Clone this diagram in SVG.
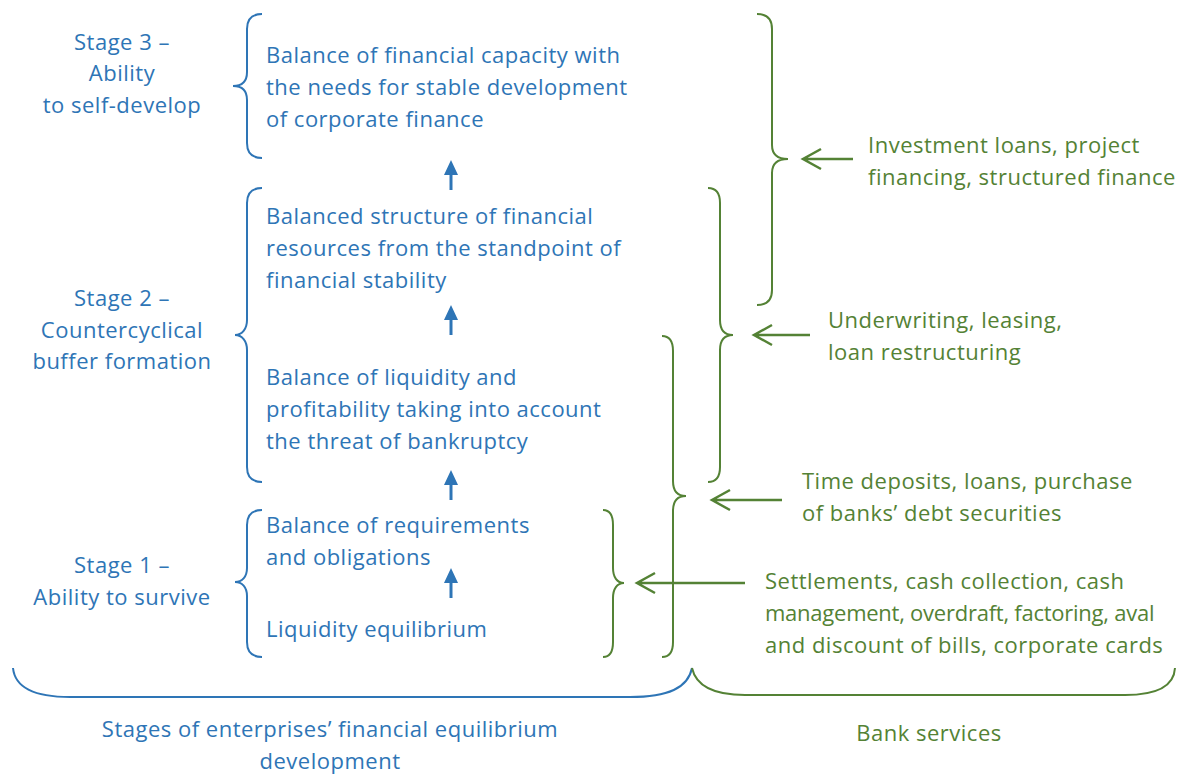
<svg xmlns="http://www.w3.org/2000/svg" width="1193" height="774" viewBox="0 0 1193 774">
<defs>
<style>
.bt{font-family:"Open Sans","Noto Sans",sans-serif;font-size:22px;letter-spacing:0.5px;fill:#2E75B6}
.gt{font-family:"Open Sans","Noto Sans",sans-serif;font-size:22px;letter-spacing:0.5px;fill:#548235}
.bb{fill:none;stroke:#2E75B6;stroke-width:2}
.gb{fill:none;stroke:#548235;stroke-width:2}
.ba{stroke:#2E75B6;stroke-width:3}
.bh{fill:#2E75B6}
.ga{stroke:#548235;stroke-width:2.5;fill:none}
</style>
</defs>
<rect width="1193" height="774" fill="#fff"/>

<g id="stage3-label"><text class="bt" text-anchor="middle"><tspan x="122" y="50">Stage 3 –</tspan><tspan x="122" y="81">Ability</tspan><tspan x="122" y="113">to self-develop</tspan></text></g>
<g id="stage2-label"><text class="bt" text-anchor="middle"><tspan x="122" y="306">Stage 2 –</tspan><tspan x="122" y="338">Countercyclical</tspan><tspan x="122" y="369">buffer formation</tspan></text></g>
<g id="stage1-label"><text class="bt" text-anchor="middle"><tspan x="122" y="573">Stage 1 –</tspan><tspan x="122" y="605">Ability to survive</tspan></text></g>

<g id="brace-stage3"><path class="bb" d="M262,14 C252,14 247,19 247,29 L247,72 C247,81 242,86 233,86 C242,86 247,91 247,100 L247,143 C247,153 252,158 262,158"/></g>
<g id="brace-stage2"><path class="bb" d="M262,188 C252,188 247,193 247,203 L247,320 C247,329 242,335 235,335 C242,335 247,341 247,350 L247,467 C247,477 252,482 262,482"/></g>
<g id="brace-stage1"><path class="bb" d="M262,510 C252,510 247,515 247,525 L247,568 C247,577 242,582 235,582 C242,582 247,587 247,596 L247,642 C247,652 252,657 262,657"/></g>

<g id="n-self-develop"><text class="bt"><tspan x="266" y="63">Balance of financial capacity with</tspan><tspan x="266" y="95">the needs for stable development</tspan><tspan x="266" y="127">of corporate finance</tspan></text></g>
<g id="n-balanced-structure"><text class="bt"><tspan x="266" y="224">Balanced structure of financial</tspan><tspan x="266" y="256">resources from the standpoint of</tspan><tspan x="266" y="288">financial stability</tspan></text></g>
<g id="n-liquidity-profitability"><text class="bt"><tspan x="266" y="385">Balance of liquidity and</tspan><tspan x="266" y="417">profitability taking into account</tspan><tspan x="266" y="449">the threat of bankruptcy</tspan></text></g>
<g id="n-requirements"><text class="bt"><tspan x="266" y="533">Balance of requirements</tspan><tspan x="266" y="565">and obligations</tspan></text></g>
<g id="n-liquidity-eq"><text class="bt"><tspan x="266" y="637">Liquidity equilibrium</tspan></text></g>

<g id="brace-investment"><path class="gb" d="M757,14 C767,14 772,19 772,29 L772,145 C772,154 777,159 788,159 C777,159 772,164 772,173 L772,290 C772,300 767,305 757,305"/></g>
<g id="brace-underwriting"><path class="gb" d="M708,188 C716,188 720,193 720,203 L720,320 C720,329 724,335 733,335 C724,335 720,341 720,350 L720,467 C720,477 716,482 708,482"/></g>
<g id="brace-time-deposits"><path class="gb" d="M662,336 C669,336 673,341 673,351 L673,481 C673,490 677,496 686,496 C677,496 673,502 673,511 L673,642 C673,652 669,657 662,657"/></g>
<g id="brace-settlements"><path class="gb" d="M603,510 C610,510 613,515 613,525 L613,568 C613,577 617,583 624,583 C617,583 613,589 613,598 L613,642 C613,652 610,657 603,657"/></g>

<g id="n-investment"><text class="gt"><tspan x="868" y="153">Investment loans, project</tspan><tspan x="868" y="185">financing, structured finance</tspan></text></g>
<g id="n-underwriting"><text class="gt"><tspan x="828" y="328">Underwriting, leasing,</tspan><tspan x="828" y="360">loan restructuring</tspan></text></g>
<g id="n-time-deposits"><text class="gt"><tspan x="802" y="489">Time deposits, loans, purchase</tspan><tspan x="802" y="521">of banks’ debt securities</tspan></text></g>
<g id="n-settlements"><text class="gt"><tspan x="765" y="589">Settlements, cash collection, cash</tspan></text><text class="gt" x="765" y="621" textLength="390" lengthAdjust="spacing">management, overdraft, factoring, aval</text><text class="gt"><tspan x="765" y="653">and discount of bills, corporate cards</tspan></text></g>

<g id="bottom-brace-stages"><path class="bb" d="M13,668 C15,688 35,697 70,697 L630,697 C668,697 688,688 692,668"/></g>
<g id="bottom-brace-bank"><path class="gb" d="M692,668 C696,686 714,695 745,695 L1125,695 C1158,695 1174,686 1175,668"/></g>
<g id="label-stages"><text class="bt" text-anchor="middle"><tspan x="330" y="737">Stages of enterprises’ financial equilibrium</tspan><tspan x="330" y="769">development</tspan></text></g>
<g id="label-bank"><text class="gt" text-anchor="middle"><tspan x="929" y="741">Bank services</tspan></text></g>

<g id="connectors">
<line class="ba" x1="451" y1="190" x2="451" y2="172"/><polygon class="bh" points="451,160 458,175 444,175"/>
<line class="ba" x1="451" y1="335" x2="451" y2="317"/><polygon class="bh" points="451,305 458,320 444,320"/>
<line class="ba" x1="451" y1="500" x2="451" y2="482"/><polygon class="bh" points="451,470 458,485 444,485"/>
<line class="ba" x1="451" y1="598" x2="451" y2="580"/><polygon class="bh" points="451,568 458,583 444,583"/>
<path class="ga" d="M853,159 L803,159 M821,149 L803,159 L821,169"/>
<path class="ga" d="M810,335 L754,335 M772,325 L754,335 L772,345"/>
<path class="ga" d="M782,500 L712,500 M730,490 L712,500 L730,510"/>
<path class="ga" d="M745,583 L637,583 M655,573 L637,583 L655,593"/>
</g>
</svg>
